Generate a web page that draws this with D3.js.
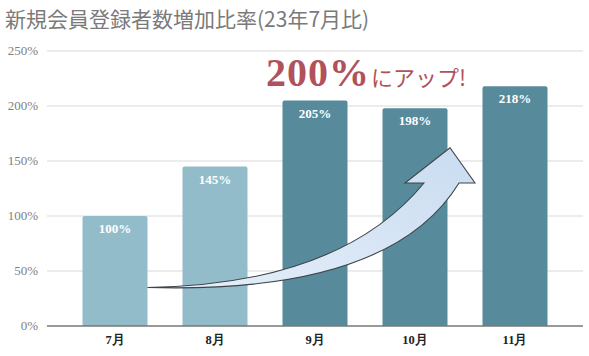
<!DOCTYPE html>
<html><head><meta charset="utf-8">
<script src="https://cdn.jsdelivr.net/npm/d3@7"></script>
<style>
body{margin:0;background:#fff}
</style>
</head><body>
<svg id="c" width="589" height="356"></svg>
<script>
const categories = ["7月","8月","9月","10月","11月"];
const values = [100,145,205,198,218];
const tones = ["light","light","dark","dark","dark"];
const yTicks = [0,50,100,150,200,250];
const titleText = "新規会員登録者数増加比率(23年7月比)";
const calloutNum = "200%";
const calloutTail = "にアップ!";

(function(){
const svg = d3.select("#c");
const pL = 47, pR = 583, pT = 51, pB = 326;
const x = d3.scaleBand().domain(categories).range([pL, pR]).paddingInner(0.35).paddingOuter(0.355);
const y = d3.scaleLinear().domain([0,250]).range([pB, pT]);
const color = {light:"#93bccb", dark:"#578b9c"};
const SF = '"Liberation Serif"';
const SS = '"Noto Sans CJK JP"';

// title
svg.append("text").style("font-family",SS).attr("x",5).attr("y",27).attr("fill","#7a7a7a")
  .style("font-size","21px").text(titleText);

// grid
svg.append("g").selectAll("line").data(yTicks.filter(d=>d>0)).join("line")
  .attr("x1",pL).attr("x2",pR).attr("y1",d=>y(d)).attr("y2",d=>y(d))
  .attr("stroke","#d9d9d9").attr("stroke-width",1);

// y labels
svg.append("g").selectAll("text").data(yTicks).join("text").style("font-family",SF)
  .attr("x",38).attr("y",d=>y(d)+4).attr("text-anchor","end")
  .style("font-size","13px").attr("fill","#808080")
  .text(d=>d+"%");

// bars with rounded top corners
const r = 2;
svg.append("g").selectAll("path").data(categories).join("path")
  .attr("fill",(d,i)=>color[tones[i]])
  .attr("d",(d,i)=>{
    const x0 = x(d), w = x.bandwidth(), yt = y(values[i]), yb = y(0);
    return `M${x0},${yb}V${yt+r}Q${x0},${yt} ${x0+r},${yt}H${x0+w-r}Q${x0+w},${yt} ${x0+w},${yt+r}V${yb}Z`;
  });

// value labels
svg.append("g").selectAll("text").data(categories).join("text").style("font-family",SF)
  .attr("x",d=>x(d)+x.bandwidth()/2).attr("y",(d,i)=>y(values[i])+17)
  .attr("text-anchor","middle").style("font-weight","bold")
  .style("font-size","13px").attr("fill","#fff").text((d,i)=>values[i]+"%");

// baseline
svg.append("line").attr("x1",pL).attr("x2",pR).attr("y1",y(0)).attr("y2",y(0))
  .attr("stroke","#777").attr("stroke-width",1.5);

// x labels
svg.append("g").selectAll("text").data(categories).join("text").style("font-family",SF)
  .attr("x",d=>x(d)+x.bandwidth()/2).attr("y",344)
  .attr("text-anchor","middle").style("font-weight","bold")
  .style("font-size","12.5px").attr("fill","#222").text(d=>d);

// arrow annotation, anchored on the scales
const bw = x.bandwidth();
const tail = [x("7月")+bw, y(35)];
const tip = [x("10月")+bw/2+35, y(162)];
const baseY = y(130);
const lb = [tip[0]-45, baseY], rb = [tip[0]+25, baseY];
const ln = [tip[0]-26, baseY], rn = [tip[0]+9, baseY];
const cu = [tail[0]+193, tail[1]-3], cl = [tail[0]+243, tail[1]+7];
const ap = d3.path();
ap.moveTo(tail[0], tail[1]);
ap.quadraticCurveTo(cl[0], cl[1], rn[0], rn[1]);
ap.lineTo(rb[0], rb[1]);
ap.lineTo(tip[0], tip[1]);
ap.lineTo(lb[0], lb[1]);
ap.lineTo(ln[0], ln[1]);
ap.quadraticCurveTo(cu[0], cu[1], tail[0], tail[1]);
ap.closePath();
const defs = svg.append("defs");
const g = defs.append("linearGradient").attr("id","ag").attr("x1","0").attr("x2","1").attr("y1","1").attr("y2","0");
g.append("stop").attr("offset","0").attr("stop-color","#e6effa");
g.append("stop").attr("offset","1").attr("stop-color","#c9dcf0");
svg.append("path").attr("d",ap.toString()).attr("fill","url(#ag)")
  .attr("stroke","#3d4448").attr("stroke-width",1.1).attr("stroke-linejoin","miter");

// callout
const ct = svg.append("text").attr("x",266).attr("y",86).attr("fill","#b0525c");
ct.append("tspan").style("font-family",SF).style("font-weight","bold").style("font-size","40px")
  .style("letter-spacing","1px").text(calloutNum);
ct.append("tspan").style("font-family",SS).style("font-size","22px").attr("dx",1).text(calloutTail);
})();
</script>
</body></html>
